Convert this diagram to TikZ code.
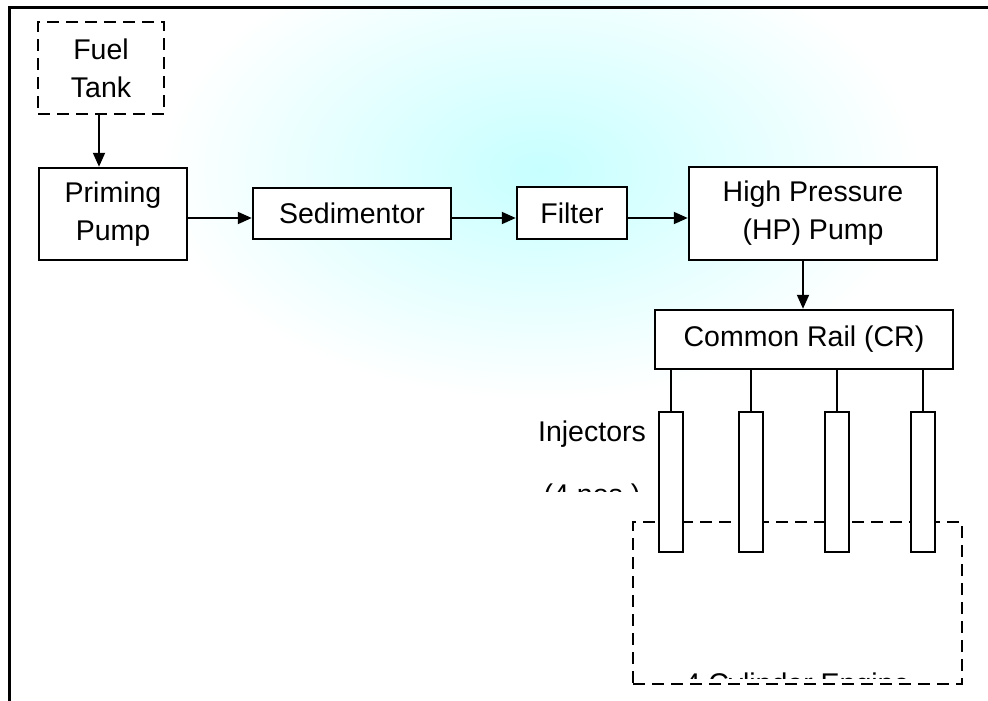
\documentclass[tikz,border=0pt]{standalone}
\usepackage{fontspec}
\setmainfont{Liberation Sans}
\usetikzlibrary{arrows.meta}
\newcommand\bodyfont{\fontsize{28.5}{38}\selectfont}
\begin{document}
\begin{tikzpicture}[x=1pt,y=-1pt,
  box/.style={draw, line width=2.5pt, fill=white, rectangle, inner sep=0pt,
              align=center, font=\bodyfont},
  dashedbox/.style={box, dash pattern=on 12pt off 7pt},
  injbox/.style={draw, line width=2.5pt, fill=white, rectangle, inner sep=0pt,
                 minimum width=24, minimum height=140},
  flow/.style={line width=2pt, -{Triangle[length=14pt,width=12pt]}},
  pipe/.style={line width=2pt},
  label/.style={font=\bodyfont, anchor=base, inner sep=0pt}]

\useasboundingbox (0,0) rectangle (988,701);

% soft cyan background glow
\shade[inner color=cyan!22, outer color=white] (540,170) ellipse [x radius=380, y radius=230];

% outer frame
\draw[line width=3pt] (988,8) -- (9,8) -- (9,701);

% supply line
\node[dashedbox, minimum width=126, minimum height=92] (tank)  at (101,68)    {Fuel\\Tank};
\node[box, minimum width=148, minimum height=92]       (prime) at (113,214)   {Priming\\Pump};
\node[box, minimum width=198, minimum height=51]       (sed)   at (352,213.5) {Sedimentor};
\node[box, minimum width=110, minimum height=52]       (filt)  at (572,213)   {Filter};
\node[box, minimum width=248, minimum height=93]       (hp)    at (813,213.5) {High Pressure\\(HP) Pump};
\node[box, minimum width=298, minimum height=59]       (cr)    at (804,339.5) {Common Rail (CR)};

\draw[flow] ([xshift=-2pt]tank.south) -- ([xshift=-2pt]tank.south |- prime.north);
\draw[flow] ([yshift=-4.5pt]prime.east |- sed.west) -- ([yshift=-4.5pt]sed.west);
\draw[flow] ([yshift=-4.5pt]sed.east) -- ([yshift=-4.5pt]sed.east -| filt.west);
\draw[flow] ([yshift=-5pt]filt.east) -- ([yshift=-5pt]filt.east -| hp.west);
\draw[flow] ([xshift=-10pt]hp.south) -- ([xshift=-10pt]hp.south |- cr.north);

% engine block
\node[draw, line width=2.5pt, dash pattern=on 12pt off 7pt, rectangle,
      minimum width=329, minimum height=162, inner sep=0pt] (engine) at (797.5,603) {};

% injectors fed from the rail
\foreach \i/\x in {1/671, 2/751, 3/837, 4/923} {
  \node[injbox] (inj\i) at (\x,482) {};
  \draw[pipe] (inj\i.north |- cr.south) -- (inj\i.north);
}

% labels
\node[label] (injlbl) at (592,441) {Injectors};
\begin{scope}
  \clip (530,483) rectangle (650,491);
  \node[label] (noslbl) at (592,504) {(4 nos.)};
\end{scope}
\begin{scope}
  \clip (670,672) rectangle (930,678);
  \node[label] (englbl) at (797,693) {4 Cylinder Engine};
\end{scope}
\end{tikzpicture}
\end{document}
